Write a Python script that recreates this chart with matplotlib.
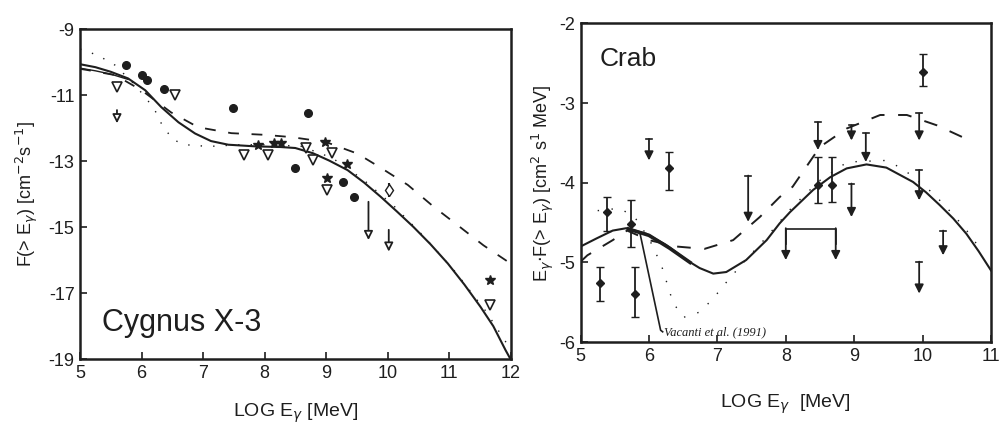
import matplotlib.pyplot as plt
import numpy as np

plt.rcParams['font.family'] = ['Liberation Sans', 'DejaVu Sans']
plt.rcParams['axes.unicode_minus'] = False
ink = '#1e1e1e'

# ---------------- Cygnus X-3 ----------------
cyg_solid_x = [5.0, 5.25, 5.5, 5.78, 6.06, 6.32, 6.6, 6.87, 7.13, 7.41, 7.85, 8.26, 8.5,
               8.79, 9.05, 9.35, 9.62, 9.89, 10.15, 10.42, 10.7, 10.98, 11.25, 11.51, 11.72, 11.92, 12.0]
cyg_solid_y = [-10.06, -10.15, -10.29, -10.49, -10.85, -11.36, -11.82, -12.16, -12.39, -12.5, -12.55,
               -12.57, -12.6, -12.76, -12.98, -13.27, -13.65, -14.08, -14.52, -14.99, -15.52, -16.1,
               -16.74, -17.41, -18.0, -18.73, -19.0]
cyg_solid2_x = [5.0, 5.25, 5.5, 5.78]
cyg_solid2_y = [-10.18, -10.26, -10.36, -10.52]
cyg_dash_x = [5.0, 5.13, 5.57, 6.0, 6.48, 6.92, 7.46, 8.0, 8.44, 9.0, 9.51, 9.89, 10.33, 10.75, 11.14, 11.56, 12.0]
cyg_dash_y = [-10.2, -10.24, -10.39, -10.85, -11.52, -11.97, -12.15, -12.2, -12.27, -12.42, -12.77,
              -13.2, -13.72, -14.38, -14.94, -15.55, -16.1]
cyg_dot_x = [5.0, 5.29, 5.57, 5.9, 6.2, 6.32, 6.51, 6.79, 7.12, 7.6, 8.1, 8.6, 9.1, 9.6, 10.1,
             10.6, 11.1, 11.6, 12.0]
cyg_dot_y = [-9.6, -9.79, -10.09, -10.7, -11.39, -11.85, -12.36, -12.52, -12.55, -12.5, -12.5,
             -12.55, -12.9, -13.55, -14.35, -15.3, -16.35, -17.55, -18.7]

cyg_circ_x = [5.74, 6.01, 6.09, 6.36, 7.48, 8.70, 9.28, 9.45, 8.49]
cyg_circ_y = [-10.09, -10.39, -10.54, -10.80, -11.40, -11.53, -13.62, -14.08, -13.22]
cyg_tri_x = [5.6, 6.55, 8.05, 8.79, 9.09, 9.01, 11.66, 8.68, 7.67]
cyg_tri_y = [-10.75, -11.0, -12.8, -12.97, -12.76, -13.87, -17.36, -12.61, -12.81]
cyg_star_x = [7.89, 8.16, 8.27, 8.98, 9.34, 9.01, 11.66]
cyg_star_y = [-12.5, -12.46, -12.46, -12.41, -13.07, -13.52, -16.6]
cyg_diam_x = [10.02]
cyg_diam_y = [-13.87]
cyg_arrow_x = [5.6, 9.69, 10.02]
cyg_arrow_top = [-11.45, -14.23, -15.08]
cyg_arrow_bot = [-11.85, -15.39, -15.74]

# ---------------- Crab ----------------
crab_solid_x = [5.0, 5.23, 5.47, 5.67, 5.96, 6.25, 6.55, 6.74, 6.94, 7.13, 7.42, 7.72, 7.91, 8.06,
                8.4, 8.65, 8.89, 9.18, 9.47, 9.86, 10.05, 10.25, 10.45, 10.64, 10.82, 11.0]
crab_solid_y = [-4.80, -4.70, -4.60, -4.57, -4.64, -4.78, -4.97, -5.07, -5.14, -5.12, -4.97, -4.72,
                -4.51, -4.37, -4.09, -3.93, -3.82, -3.77, -3.81, -3.99, -4.12, -4.28, -4.45, -4.64,
                -4.86, -5.10]
crab_thick_x = [5.7, 6.0, 6.3, 6.6]
crab_thick_y = [-4.58, -4.66, -4.82, -5.0]
crab_dash_x = [5.0, 5.1, 5.47, 5.68, 6.0, 6.4, 6.81, 7.23, 7.62, 7.91, 8.1, 8.5, 8.89, 9.38, 9.77,
               10.21, 10.69]
crab_dash_y = [-4.99, -4.91, -4.72, -4.6, -4.72, -4.80, -4.83, -4.72, -4.43, -4.18, -4.05, -3.55,
               -3.32, -3.15, -3.15, -3.28, -3.47]
crab_dot_x = [5.25, 5.57, 5.79, 6.0, 6.18, 6.35, 6.5, 6.75, 6.95, 7.13, 7.33, 7.7, 8.1, 8.5, 8.9,
              9.47, 9.72, 10.15, 10.35, 10.55, 10.72, 10.87]
crab_dot_y = [-4.35, -4.32, -4.43, -4.7, -5.03, -5.5, -5.69, -5.62, -5.44, -5.25, -5.05, -4.7,
              -4.3, -3.97, -3.74, -3.72, -3.83, -4.13, -4.31, -4.5, -4.68, -4.87]
vac_x = [5.87, 6.17, 6.2]
vac_y = [-4.64, -5.85, -5.87]

crab_pt_x = [5.28, 5.39, 5.73, 5.80, 6.29, 8.47, 8.67, 10.0]
crab_pt_y = [-5.26, -4.37, -4.52, -5.39, -3.82, -4.03, -4.03, -2.61]
crab_pt_lo = [-5.48, -4.60, -4.81, -5.69, -4.09, -4.26, -4.24, -2.79]
crab_pt_hi = [-5.06, -4.18, -4.22, -5.06, -3.61, -3.68, -3.68, -2.38]
crab_ul_x = [6.0, 7.45, 8.47, 8.96, 8.96, 9.17, 9.95, 9.95, 9.95, 10.30]
crab_ul_top = [-3.45, -3.91, -3.24, -3.28, -4.01, -3.38, -3.13, -3.84, -4.99, -4.60]
crab_ul_bot = [-3.72, -4.49, -3.59, -3.47, -4.43, -3.74, -3.47, -4.22, -5.39, -4.91]
bracket_x = [8.0, 8.73]
bracket_top = -4.58
bracket_bot = -4.97

fig = plt.figure(figsize=(10.01, 4.24), dpi=100)
ax1 = fig.add_axes([0.080, 0.153, 0.430, 0.778])
ax2 = fig.add_axes([0.580, 0.193, 0.410, 0.752])


def down_arrow(ax, x, top, bot, fc):
    ax.annotate('', xy=(x, bot), xytext=(x, top),
                arrowprops=dict(arrowstyle='-|>', color=ink, fc=fc, lw=1.3,
                                mutation_scale=13, shrinkA=0, shrinkB=0))


# left panel
ax1.plot(cyg_solid_x, cyg_solid_y, color=ink, lw=1.5)
ax1.plot(cyg_solid2_x, cyg_solid2_y, color=ink, lw=1.0)
ax1.plot(cyg_dash_x, cyg_dash_y, color=ink, lw=1.3, dashes=(6, 7))
ax1.plot(cyg_dot_x, cyg_dot_y, color=ink, lw=1.0, ls=(0, (1, 8)))
ax1.plot(cyg_circ_x, cyg_circ_y, 'o', color=ink, ms=5.5)
ax1.plot(cyg_tri_x, cyg_tri_y, 'v', mfc='white', mec=ink, mew=1.2, ms=6.5)
ax1.plot(cyg_star_x, cyg_star_y, '*', color=ink, ms=7)
ax1.errorbar(cyg_diam_x, cyg_diam_y, yerr=0.2, fmt='d', mfc='white', mec=ink,
             ecolor=ink, ms=6, capsize=0)
for x, t, b in zip(cyg_arrow_x, cyg_arrow_top, cyg_arrow_bot):
    down_arrow(ax1, x, t, b, 'white')
ax1.set_xlim(5, 12)
ax1.set_ylim(-19, -9)
ax1.set_xticks(range(5, 13))
ax1.set_yticks([-19, -17, -15, -13, -11, -9])
ax1.text(5.35, -17.9, 'Cygnus X-3', fontsize=22, color=ink, va='center')
ax1.set_xlabel(r'LOG E$_\gamma$ [MeV]', fontsize=14, color=ink, labelpad=14)
ax1.set_ylabel(r'F(> E$_\gamma$) [cm$^{-2}$s$^{-1}$]', fontsize=13, color=ink, labelpad=6)

# right panel
ax2.plot(crab_solid_x, crab_solid_y, color=ink, lw=1.5)
ax2.plot(crab_thick_x, crab_thick_y, color=ink, lw=2.6)
ax2.plot(crab_dash_x, crab_dash_y, color=ink, lw=1.4, dashes=(7, 7))
ax2.plot(crab_dot_x, crab_dot_y, color=ink, lw=1.0, ls=(0, (1, 9)))
ax2.plot(vac_x, vac_y, color=ink, lw=1.2)
ax2.text(6.22, -5.88, 'Vacanti et al. (1991)', fontsize=9, style='italic',
         family=['Liberation Serif', 'DejaVu Serif'], color=ink, va='center')
yerr = [np.subtract(crab_pt_y, crab_pt_lo), np.subtract(crab_pt_hi, crab_pt_y)]
ax2.errorbar(crab_pt_x, crab_pt_y, yerr=yerr, fmt='D', color=ink, ms=4,
             capsize=3, lw=1.3)
for x, t, b in zip(crab_ul_x, crab_ul_top, crab_ul_bot):
    ax2.plot([x - 0.04, x + 0.04], [t, t], color=ink, lw=1.2)
    down_arrow(ax2, x, t, b, ink)
ax2.plot([bracket_x[0], bracket_x[0], bracket_x[1], bracket_x[1]],
         [bracket_bot + 0.2, bracket_top, bracket_top, bracket_bot + 0.2], color=ink, lw=1.2)
for x in bracket_x:
    down_arrow(ax2, x, bracket_top + 0.01, bracket_bot, ink)
ax2.set_xlim(5, 11)
ax2.set_ylim(-6, -2)
ax2.set_xticks(range(5, 12))
ax2.set_yticks([-6, -5, -4, -3, -2])
ax2.text(5.28, -2.45, 'Crab', fontsize=19, color=ink, va='center')
ax2.set_xlabel(r'LOG E$_\gamma$  [MeV]', fontsize=14, color=ink, labelpad=20)
ax2.set_ylabel(r'E$_\gamma$$\cdot$F(> E$_\gamma$) [cm$^2$ s$^1$ MeV]', fontsize=13,
               color=ink, labelpad=2)

for ax in (ax1, ax2):
    for s in ax.spines.values():
        s.set_linewidth(1.8)
        s.set_color(ink)
    ax.tick_params(direction='in', length=5, width=1.2, labelsize=13,
                   colors=ink, pad=4)

fig.savefig('out.png', dpi=100, facecolor='white')
